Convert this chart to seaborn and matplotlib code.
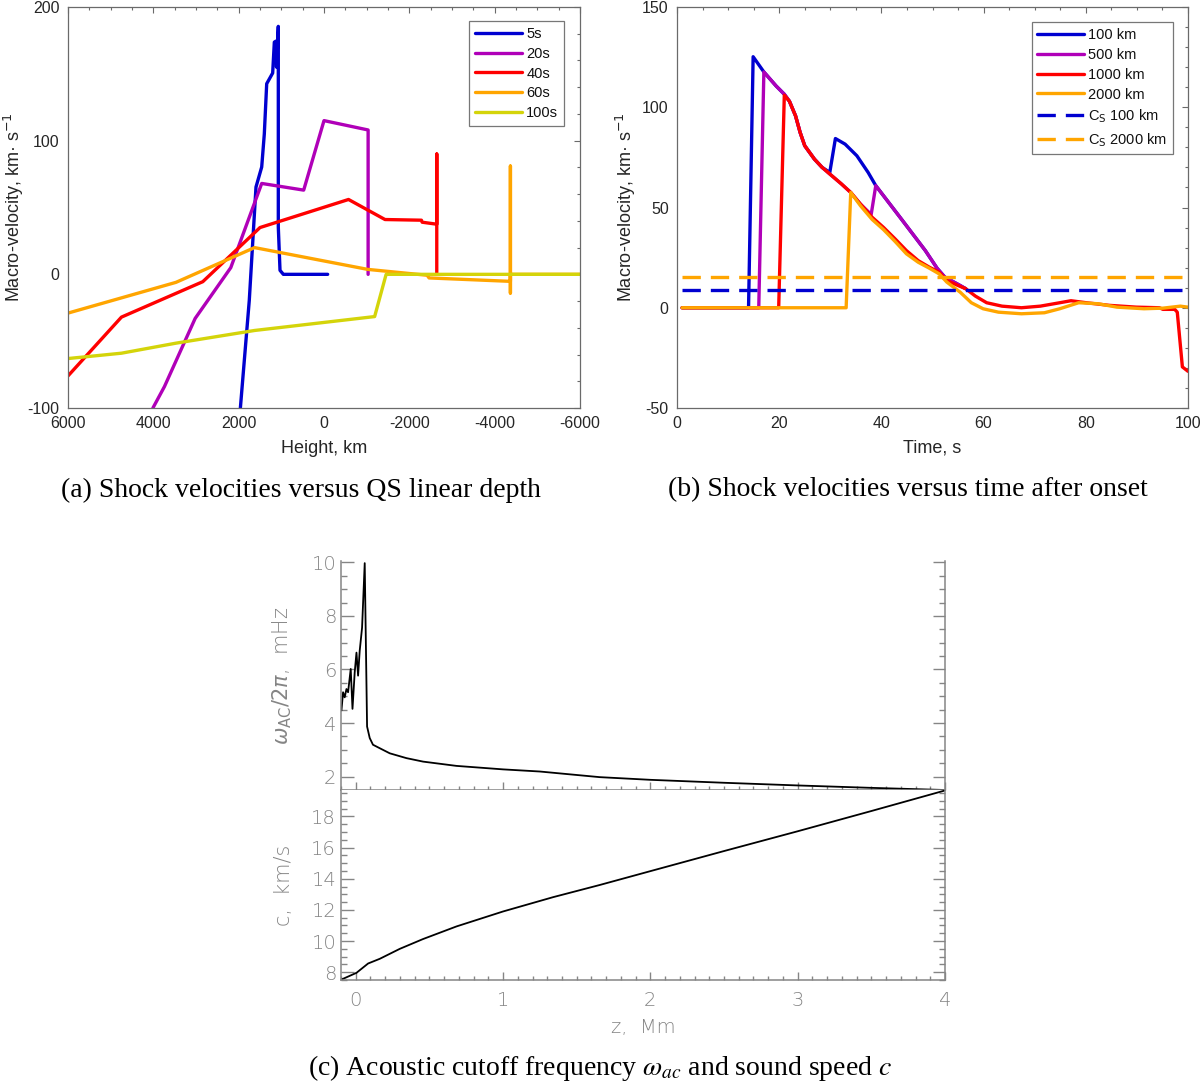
import numpy as np
import pandas as pd
import matplotlib
matplotlib.use("Agg")
import matplotlib.pyplot as plt
import seaborn as sns
from matplotlib.ticker import MultipleLocator

# ---------------- data: panel (a) shock velocity vs height ----------------
h_5s = [1960, 1751, 1594, 1460, 1399, 1343, 1203, 1164, 1125, 1112, 1071, 1071, 1031, 953, -86]
v_5s = [-100, -19.4, 65.3, 80.3, 105, 142.6, 150.6, 173.7, 174.5, 155, 185.5, 35.4, 3, 0, 0]

h_20s = [4010, 3740, 3020, 2185, 1460, 476, 0, -1034, -1034]
v_20s = [-100, -84, -33, 5, 68, 63, 115, 108, 0]

h_40s = [6000, 4747, 2841, 1500, -575, -1430, -2284, -2300, -2643, -2643, -2643]
v_40s = [-76, -32, -5.5, 35, 56, 41, 40.5, 39, 37.5, 90, 0]

h_60s = [6000, 3470, 1627, -1025, -2418, -2463, -4330, -4369, -4369, -4369, -4369, -6000]
v_60s = [-29, -6, 20, 3.7, -0.7, -2.7, -5.2, -5.2, 81, -14, 0, 0]

h_100s = [6000, 4747, 3470, 1627, -1187, -1456, -6000]
v_100s = [-63, -59, -51.5, -42, -31.6, 0, 0]

labels_a = ["5s", "20s", "40s", "60s", "100s"]

# ---------------- data: panel (b) shock velocity vs time ----------------
t_100 = [1, 14.0, 14.9, 17.0, 19.4, 21.0, 22.0, 23.2, 24.1, 25.0, 26.9, 28.4, 29.9,
         31.0, 32.9, 35.2, 37.4, 38.9, 43.8, 48.6, 50.9, 52.4, 55.4, 56.5]
v_100 = [0, 0, 125.2, 117.6, 110.6, 106.5, 103, 95.7, 87.4, 80.8, 74.1, 70, 67.5,
         84.4, 81.6, 75.8, 67.5, 60.9, 44.6, 28.5, 19.7, 15.3, 11.1, 9.5]

t_500 = [1, 16.0, 17.0, 19.4, 21.0, 22.0, 23.2, 24.1, 25.0, 26.9, 28.4, 29.9, 32.2,
         34.0, 35.9, 38.0, 38.9, 43.8, 48.6, 50.9, 52.4, 55.4, 56.5]
v_500 = [0, 0, 117.6, 110.6, 106.5, 103, 95.7, 87.4, 80.8, 74.1, 70, 66.7, 61.7,
         57.5, 51.7, 46.5, 60.9, 44.6, 28.5, 19.7, 15.3, 11.1, 9.5]

t_1000 = [1, 19.9, 21.0, 22.0, 23.2, 24.1, 25.0, 26.9, 28.4, 29.9, 32.2, 34.0, 35.9,
          38.2, 40.4, 42.7, 44.9, 47.2, 49.4, 51.3, 52.8, 55.0, 56.5, 58.4, 60.6,
          63.6, 67.4, 71.1, 74.9, 77.1, 80.1, 84.6, 89.9, 94.4, 95.1, 97.4, 97.9,
          98.9, 100]
v_1000 = [0, 0, 106, 103, 95.7, 87.4, 80.8, 74.1, 70, 66.7, 61.7, 57.5, 51.7,
          45.1, 40.1, 34.3, 28.5, 23.5, 20.2, 17.7, 13.6, 11.1, 9.5, 5.8, 2.5,
          0.8, 0, 0.8, 2.5, 3.5, 2.5, 1.2, 0.3, 0, -0.8, -0.8, -2.2,
          -29.5, -31.7]

t_2000 = [1, 33.1, 34.0, 35.9, 38.2, 40.4, 42.7, 44.9, 47.2, 49.4, 51.3, 52.8, 55.4,
          57.6, 59.9, 62.9, 67.4, 71.9, 74.9, 78.6, 82.4, 86.1, 91.4, 95.1, 98.5, 100]
v_2000 = [0, 0, 57.5, 50.9, 44, 39, 33, 26.9, 22.7, 19.7, 16.9, 12.8, 7.8,
          2.5, -0.5, -2.2, -3, -2.5, -0.5, 2.5, 2, 0.3, -0.5, -0.2, 0.8, 0.3]

t_cs = [1, 100]
cs_100 = 9.1
cs_2000 = 15.3

labels_b = ["100 km", "500 km", "1000 km", "2000 km",
            r"C$_{\rm S}$ 100 km", r"C$_{\rm S}$ 2000 km"]

# ---------------- data: panel (c) cutoff frequency and sound speed ----------------
z_ac = [-0.097, -0.086, -0.075, -0.063, -0.052, -0.034, -0.022, -0.007, 0.005, 0.016,
        0.027, 0.043, 0.061, 0.077, 0.095, 0.117, 0.163, 0.231, 0.344, 0.457, 0.684,
        1.0, 1.25, 1.656, 2.0, 2.5, 3.0, 3.5, 4.0]
w_ac = [4.47, 5.15, 4.96, 5.27, 5.15, 6.02, 4.53, 5.89, 6.63, 5.77,
        6.70, 7.56, 9.97, 3.87, 3.44, 3.19, 3.06, 2.87, 2.69, 2.56, 2.40,
        2.27, 2.19, 1.98, 1.88, 1.77, 1.67, 1.58, 1.5]

z_c = [-0.097, 0.005, 0.084, 0.163, 0.299, 0.457, 0.684, 1.0, 1.34, 1.656, 2.0, 2.5, 3.0, 3.5, 4.0]
c_s = [7.53, 7.96, 8.56, 8.86, 9.50, 10.13, 10.94, 11.90, 12.82, 13.60, 14.49, 15.78, 17.05, 18.35, 19.67]

captions = ["(a) Shock velocities versus QS linear depth",
            "(b) Shock velocities versus time after onset",
            r"(c) Acoustic cutoff frequency $\omega_{ac}$ and sound speed $c$"]

# ---------------- styling ----------------
sns.set_style("white")
plt.rcParams["font.family"] = ["Liberation Sans", "DejaVu Sans"]
plt.rcParams["axes.unicode_minus"] = False

W, H = 1200, 1089
fig = plt.figure(figsize=(12, 10.89), dpi=100)


def box(l, t, r, b):
    return [l / W, 1 - b / H, (r - l) / W, (b - t) / H]


axA = fig.add_axes(box(68, 7, 580, 408))
axB = fig.add_axes(box(677, 7, 1188, 408))
axC1 = fig.add_axes(box(341, 561, 945, 790))
axC2 = fig.add_axes(box(341, 790, 945, 980))

SPINE = "#6a6a6a"
TXT = "#262626"
LW = 2.4

cols_a = ["#0000d0", "#b000b8", "#ff0000", "#ffa500", "#d4d40a"]
series_a = [(h_5s, v_5s), (h_20s, v_20s), (h_40s, v_40s), (h_60s, v_60s), (h_100s, v_100s)]
for (hx, vy), col, lab in zip(series_a, cols_a, labels_a):
    sns.lineplot(x=hx, y=vy, sort=False, estimator=None, color=col, linewidth=LW,
                 ax=axA, label=lab)

cols_b = ["#0000d0", "#b000b8", "#ff0000", "#ffa500"]
series_b = [(t_100, v_100), (t_500, v_500), (t_1000, v_1000), (t_2000, v_2000)]
for (tx, vy), col, lab in zip(series_b, cols_b, labels_b[:4]):
    sns.lineplot(x=tx, y=vy, sort=False, estimator=None, color=col, linewidth=LW,
                 ax=axB, label=lab)
sns.lineplot(x=t_cs, y=[cs_100, cs_100], color="#0000d0", linewidth=LW,
             linestyle=(0, (5.5, 3)), ax=axB, label=labels_b[4])
sns.lineplot(x=t_cs, y=[cs_2000, cs_2000], color="#ffa500", linewidth=LW,
             linestyle=(0, (5.5, 3)), ax=axB, label=labels_b[5])


def matlab_axes(ax, xlabel, ylabel, ylab_x):
    for s in ax.spines.values():
        s.set_color(SPINE)
        s.set_linewidth(0.9)
        s.set_visible(True)
    ax.tick_params(which="both", direction="in", top=True, right=True,
                   colors=SPINE, labelcolor=TXT, labelsize=11.5, width=0.8)
    ax.tick_params(which="major", length=4.5, pad=6)
    ax.tick_params(which="minor", length=2.5)
    ax.set_xlabel(xlabel, fontsize=13, color=TXT, labelpad=6)
    ax.set_ylabel(ylabel, fontsize=13, color=TXT)
    ax.yaxis.set_label_coords(ylab_x, 0.5)


axA.set_xlim(6000, -6000)
axA.set_ylim(-100, 200)
axA.xaxis.set_major_locator(MultipleLocator(2000))
axA.xaxis.set_minor_locator(MultipleLocator(500))
axA.yaxis.set_major_locator(MultipleLocator(100))
axA.yaxis.set_minor_locator(MultipleLocator(20))
matlab_axes(axA, "Height, km", "Macro-velocity, km· s$^{-1}$", -0.082)

axB.set_xlim(0, 100)
axB.set_ylim(-50, 150)
axB.xaxis.set_major_locator(MultipleLocator(20))
axB.xaxis.set_minor_locator(MultipleLocator(5))
axB.yaxis.set_major_locator(MultipleLocator(50))
axB.yaxis.set_minor_locator(MultipleLocator(10))
matlab_axes(axB, "Time, s", "Macro-velocity, km· s$^{-1}$", -0.077)


def style_legend(ax, anchor):
    leg = ax.legend(loc="upper right", bbox_to_anchor=anchor, borderaxespad=0,
                    fontsize=10.5, frameon=True, fancybox=False, handlelength=3.2,
                    labelspacing=0.4, handletextpad=0.3, borderpad=0.4)
    leg.get_frame().set_edgecolor("#555555")
    leg.get_frame().set_linewidth(0.9)
    for t in leg.get_texts():
        t.set_color("#111111")
    return leg


style_legend(axA, (0.969, 0.965))
style_legend(axB, (0.971, 0.962))

# ---------------- panel (c) ----------------
GRAY = "#858585"
CFONT = dict(family="DejaVu Sans", weight=200)
sns.lineplot(x=z_ac, y=w_ac, sort=False, estimator=None, color="black", linewidth=1.3, ax=axC1)
sns.lineplot(x=z_c, y=c_s, sort=False, estimator=None, color="black", linewidth=1.3, ax=axC2)

for ax in (axC1, axC2):
    ax.set_xlim(-0.1, 4.0)
    ax.xaxis.set_major_locator(MultipleLocator(1))
    ax.xaxis.set_minor_locator(MultipleLocator(0.1))
    ax.yaxis.set_major_locator(MultipleLocator(2))
    ax.yaxis.set_minor_locator(MultipleLocator(0.5))
    for s in ax.spines.values():
        s.set_color(GRAY)
        s.set_linewidth(1.1)
        s.set_visible(True)
    ax.spines["top"].set_visible(False)
    ax.tick_params(which="both", direction="in", left=True, right=True, bottom=True,
                   top=False, colors=GRAY, labelcolor=GRAY, labelsize=14, width=1.0)
    ax.tick_params(axis="y", which="major", length=9)
    ax.tick_params(axis="y", which="minor", length=4.5)
    ax.tick_params(axis="x", which="major", length=6, pad=8)
    ax.tick_params(axis="x", which="minor", length=3)
    for lab in ax.get_xticklabels() + ax.get_yticklabels():
        lab.set_fontfamily("DejaVu Sans")
        lab.set_fontweight(200)

axC1.set_ylim(1.5, 10.05)
axC2.set_ylim(7.5, 19.7)
axC1.tick_params(labelbottom=False)
axC1.set_xlabel("")
axC1.set_ylabel(r"$\omega_{\rm AC}/2\pi$,  mHz", fontsize=15, color=GRAY, **CFONT)
axC2.set_ylabel("c,  km/s", fontsize=15, color=GRAY, **CFONT)
axC2.set_xlabel("z,  Mm", fontsize=14, color=GRAY, labelpad=6, **CFONT)
axC1.yaxis.set_label_coords(-0.078, 0.5)
axC2.yaxis.set_label_coords(-0.078, 0.5)

# ---------------- captions ----------------
cap_kw = dict(family="Liberation Serif", fontsize=20, color="black", ha="center", va="center",
              math_fontfamily="stix")
fig.text(301 / W, 1 - 490 / H, captions[0], **cap_kw)
fig.text(908 / W, 1 - 490 / H, captions[1], **cap_kw)
fig.text(600 / W, 1 - 1068 / H, captions[2], **cap_kw)

fig.savefig("out.png", dpi=100, facecolor="white")
